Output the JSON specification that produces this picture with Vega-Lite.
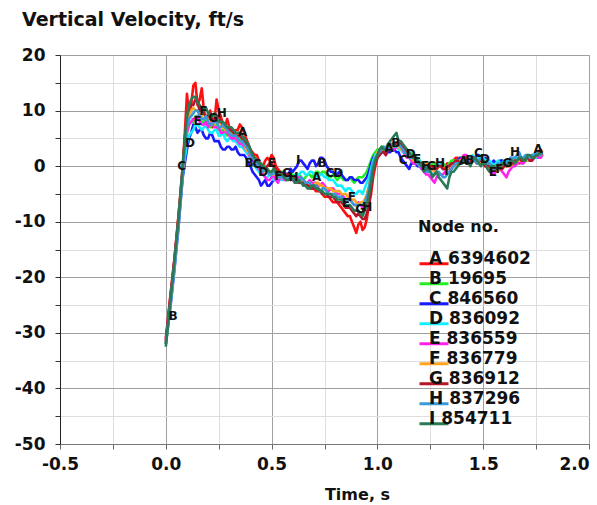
{
  "$schema": "https://vega.github.io/schema/vega-lite/v6.json",
  "width": 529,
  "height": 389,
  "autosize": {"type": "none"},
  "padding": {"left": 60, "top": 55, "right": 8, "bottom": 61},
  "background": "white",
  "config": {
    "view": {"stroke": "#808080", "strokeWidth": 1},
    "font": "DejaVu Sans"
  },
  "title": {
    "text": "Vertical Velocity, ft/s",
    "anchor": "start",
    "frame": "group",
    "font": "DejaVu Sans",
    "fontSize": 19,
    "fontWeight": "bold",
    "color": "#111111",
    "dx": -38,
    "offset": 16
  },
  "datasets": {
    "vel": [
      {"t":0.00,"A":-31.5,"B":-32,"C":-32,"D":-32,"E":-31.5,"F":-32,"G":-31,"H":-32,"I":-32.5},
      {"t":0.02,"A":-24,"B":-25,"C":-26,"D":-25.5,"E":-24.5,"F":-25,"G":-24,"H":-25,"I":-25},
      {"t":0.04,"A":-17,"B":-18,"C":-19,"D":-18.5,"E":-17.5,"F":-18,"G":-17,"H":-18,"I":-17.5},
      {"t":0.06,"A":-9,"B":-10,"C":-11,"D":-10.5,"E":-10,"F":-9.5,"G":-9,"H":-10,"I":-9.5},
      {"t":0.08,"A":0,"B":-1.5,"C":-2,"D":-1.5,"E":-1,"F":-1,"G":-0.5,"H":-1,"I":0},
      {"t":0.10,"A":13,"B":6,"C":3,"D":4,"E":6,"F":7,"G":9,"H":7,"I":9},
      {"t":0.12,"A":11,"B":8,"C":6,"D":6,"E":8,"F":10,"G":11,"H":9,"I":12},
      {"t":0.14,"A":15,"B":9,"C":7,"D":7.5,"E":8.5,"F":10,"G":12,"H":10,"I":12.5},
      {"t":0.16,"A":12,"B":8.5,"C":6.5,"D":7,"E":8,"F":9.5,"G":10,"H":9,"I":11},
      {"t":0.18,"A":10,"B":8,"C":5.5,"D":7,"E":7.5,"F":9.5,"G":9.5,"H":8.5,"I":10},
      {"t":0.20,"A":9,"B":8,"C":5,"D":6.5,"E":7,"F":8.5,"G":9,"H":8,"I":9.5},
      {"t":0.22,"A":7,"B":7.5,"C":5.5,"D":6,"E":8,"F":8,"G":8.5,"H":7.5,"I":9},
      {"t":0.24,"A":12,"B":7,"C":4.5,"D":6.5,"E":7,"F":8,"G":9,"H":8,"I":8.5},
      {"t":0.26,"A":9,"B":6.5,"C":3.5,"D":5.5,"E":6,"F":7.5,"G":8,"H":7,"I":8},
      {"t":0.28,"A":7,"B":6,"C":3,"D":5,"E":6.5,"F":6.5,"G":7,"H":7,"I":7.5},
      {"t":0.30,"A":7,"B":6,"C":3.5,"D":5,"E":5.5,"F":6,"G":6.5,"H":6,"I":7},
      {"t":0.32,"A":6,"B":5.5,"C":3,"D":4.5,"E":5,"F":5.5,"G":6,"H":5.5,"I":6.5},
      {"t":0.34,"A":6.5,"B":5,"C":2.5,"D":4,"E":4.5,"F":5,"G":5.5,"H":5,"I":6},
      {"t":0.36,"A":7,"B":4.5,"C":2,"D":3.5,"E":4,"F":4.5,"G":5,"H":4.5,"I":5.5},
      {"t":0.38,"A":5,"B":3.5,"C":1.5,"D":2.5,"E":3,"F":3,"G":4,"H":3.5,"I":4.5},
      {"t":0.40,"A":3,"B":2,"C":0,"D":1,"E":1.5,"F":2,"G":2.5,"H":2,"I":3},
      {"t":0.42,"A":2,"B":1,"C":-1.5,"D":0,"E":0.5,"F":1,"G":1.5,"H":1,"I":1.5},
      {"t":0.44,"A":1,"B":0,"C":-2.5,"D":-1,"E":-0.5,"F":0,"G":0.5,"H":0,"I":0.5},
      {"t":0.46,"A":0,"B":-0.5,"C":-3,"D":-1.5,"E":-1.5,"F":-0.5,"G":-0.5,"H":-1,"I":0},
      {"t":0.48,"A":1.5,"B":-0.5,"C":-3.5,"D":-2,"E":-2.5,"F":-1,"G":0,"H":-1,"I":-0.5},
      {"t":0.50,"A":2,"B":-1,"C":-3,"D":-2,"E":-2,"F":-1.5,"G":0.5,"H":-1.5,"I":-1},
      {"t":0.52,"A":0,"B":-1,"C":-2.5,"D":-2,"E":-2.5,"F":-1.5,"G":-0.5,"H":-1.5,"I":-1},
      {"t":0.54,"A":-1,"B":-1.5,"C":-2,"D":-2.5,"E":-2,"F":-2,"G":-1,"H":-2,"I":-1.5},
      {"t":0.56,"A":-1.5,"B":-1.5,"C":-1,"D":-2,"E":-2.5,"F":-2,"G":-1.5,"H":-2,"I":-2},
      {"t":0.58,"A":-2,"B":-1.5,"C":-1.5,"D":-1.5,"E":-2,"F":-2,"G":-1.5,"H":-2,"I":-2.5},
      {"t":0.60,"A":-2,"B":-1.5,"C":-1,"D":-2,"E":-2.5,"F":-2,"G":-2,"H":-2.5,"I":-2},
      {"t":0.62,"A":-2.5,"B":-2,"C":0,"D":-1.5,"E":-2.5,"F":-2.5,"G":-2.5,"H":-2.5,"I":-3},
      {"t":0.64,"A":-2.5,"B":-2,"C":1,"D":-1,"E":-2,"F":-2.5,"G":-3,"H":-2,"I":-3},
      {"t":0.66,"A":-3,"B":-2,"C":0,"D":-1.5,"E":-3,"F":-3,"G":-3.5,"H":-3,"I":-3.5},
      {"t":0.68,"A":-4,"B":-1.5,"C":0.5,"D":-1,"E":-2.5,"F":-3,"G":-3.5,"H":-3,"I":-4},
      {"t":0.70,"A":-4,"B":-1.5,"C":1,"D":-1.5,"E":-3,"F":-3.5,"G":-4,"H":-3.5,"I":-3.5},
      {"t":0.72,"A":-4.5,"B":-1,"C":0.5,"D":-2,"E":-3.5,"F":-3,"G":-4,"H":-4,"I":-4},
      {"t":0.74,"A":-5,"B":-1,"C":1.5,"D":-1.5,"E":-3,"F":-3.5,"G":-5,"H":-4,"I":-4.5},
      {"t":0.76,"A":-5.5,"B":-1.5,"C":0,"D":-2,"E":-4,"F":-4,"G":-5,"H":-4.5,"I":-5},
      {"t":0.78,"A":-6,"B":-2,"C":-1,"D":-2.5,"E":-4,"F":-4,"G":-5.5,"H":-5,"I":-5},
      {"t":0.80,"A":-6.5,"B":-2,"C":-1.5,"D":-3,"E":-4.5,"F":-4.5,"G":-6,"H":-5,"I":-5.5},
      {"t":0.82,"A":-7,"B":-2,"C":-1,"D":-3.5,"E":-5,"F":-4.5,"G":-6.5,"H":-5.5,"I":-6},
      {"t":0.84,"A":-8,"B":-2.5,"C":-2,"D":-4,"E":-5.5,"F":-5,"G":-7,"H":-6,"I":-6.5},
      {"t":0.86,"A":-9,"B":-2.5,"C":-2.5,"D":-4,"E":-6,"F":-5.5,"G":-7.5,"H":-6,"I":-7},
      {"t":0.88,"A":-10,"B":-2.5,"C":-2,"D":-4.5,"E":-6.5,"F":-6,"G":-8,"H":-6.5,"I":-7.5},
      {"t":0.90,"A":-12,"B":-2.5,"C":-2.5,"D":-5,"E":-7,"F":-6.5,"G":-9,"H":-7,"I":-8},
      {"t":0.92,"A":-10,"B":-2,"C":-3,"D":-4.5,"E":-7,"F":-6.5,"G":-9,"H":-7,"I":-8.5},
      {"t":0.94,"A":-11,"B":-1.5,"C":-2.5,"D":-4,"E":-6.5,"F":-6,"G":-9.5,"H":-6.5,"I":-8},
      {"t":0.96,"A":-7,"B":0,"C":-1,"D":-2,"E":-4,"F":-3.5,"G":-7,"H":-4,"I":-5},
      {"t":0.98,"A":-2,"B":2,"C":1.5,"D":1,"E":0,"F":0,"G":-1,"H":0.5,"I":-0.5},
      {"t":1.00,"A":1.5,"B":3,"C":2.5,"D":2.5,"E":2,"F":2.5,"G":1.5,"H":2,"I":2},
      {"t":1.02,"A":2.5,"B":3.5,"C":2.5,"D":3,"E":3,"F":3,"G":2.5,"H":3,"I":3.5},
      {"t":1.04,"A":2,"B":3,"C":3,"D":3.5,"E":2.5,"F":3.5,"G":2,"H":3,"I":3},
      {"t":1.06,"A":3.5,"B":3.5,"C":2.5,"D":3,"E":3.5,"F":3,"G":3.5,"H":3.5,"I":4.5},
      {"t":1.08,"A":3,"B":4,"C":3,"D":3.5,"E":3,"F":4,"G":4,"H":3.5,"I":5.5},
      {"t":1.10,"A":4,"B":4.5,"C":2.5,"D":3,"E":4,"F":3.5,"G":4.5,"H":4,"I":4.5},
      {"t":1.12,"A":3,"B":3,"C":1,"D":2.5,"E":3,"F":3,"G":3.5,"H":3,"I":4},
      {"t":1.14,"A":2,"B":2,"C":0,"D":2,"E":1.5,"F":2,"G":2,"H":2,"I":3},
      {"t":1.16,"A":1.5,"B":2,"C":0.5,"D":2.5,"E":1,"F":1.5,"G":1.5,"H":1.5,"I":2},
      {"t":1.18,"A":1,"B":1.5,"C":0.5,"D":1.5,"E":0.5,"F":1,"G":1,"H":1,"I":1.5},
      {"t":1.20,"A":0.5,"B":1,"C":0,"D":1,"E":0,"F":0.5,"G":0.5,"H":0,"I":0.5},
      {"t":1.22,"A":0,"B":0.5,"C":-0.5,"D":0.5,"E":-1,"F":0,"G":0,"H":-0.5,"I":-1},
      {"t":1.24,"A":-0.5,"B":0,"C":-1,"D":0,"E":-1.5,"F":0,"G":-0.5,"H":-1,"I":0},
      {"t":1.26,"A":-0.5,"B":0.5,"C":-0.5,"D":-0.5,"E":-2.5,"F":-0.5,"G":0,"H":-1.5,"I":-2},
      {"t":1.28,"A":0,"B":0,"C":0,"D":0,"E":-2,"F":-0.5,"G":-0.5,"H":-1,"I":-1},
      {"t":1.30,"A":0.5,"B":0.5,"C":0,"D":0,"E":-1.5,"F":0,"G":0,"H":-1.5,"I":-2.5},
      {"t":1.32,"A":0,"B":0,"C":-0.5,"D":-0.5,"E":-1,"F":-0.5,"G":-0.5,"H":-2,"I":-3.5},
      {"t":1.34,"A":0.5,"B":0.5,"C":0,"D":0,"E":-0.5,"F":0,"G":0,"H":-1,"I":-2},
      {"t":1.36,"A":1,"B":1,"C":0.5,"D":0.5,"E":0,"F":0.5,"G":0.5,"H":0,"I":-1},
      {"t":1.38,"A":1.5,"B":1,"C":1,"D":1,"E":0.5,"F":0.5,"G":1,"H":0.5,"I":0},
      {"t":1.40,"A":1.5,"B":1.5,"C":1,"D":1,"E":1.5,"F":1,"G":1,"H":1,"I":0.5},
      {"t":1.42,"A":1,"B":1,"C":1.5,"D":1.5,"E":2,"F":1,"G":1.5,"H":1,"I":1},
      {"t":1.44,"A":1.5,"B":1.5,"C":1,"D":1,"E":1,"F":1.5,"G":1,"H":1.5,"I":0},
      {"t":1.46,"A":1,"B":1.5,"C":1.5,"D":1.5,"E":1.5,"F":1,"G":1.5,"H":1,"I":1.5},
      {"t":1.48,"A":1,"B":1,"C":2,"D":1.5,"E":1,"F":0.5,"G":1,"H":1,"I":0.5},
      {"t":1.50,"A":0.5,"B":1,"C":1.5,"D":1.5,"E":0.5,"F":0.5,"G":0.5,"H":1,"I":1},
      {"t":1.52,"A":0,"B":0.5,"C":1,"D":1,"E":0,"F":0,"G":0,"H":0.5,"I":-0.5},
      {"t":1.54,"A":0,"B":0.5,"C":0.5,"D":0.5,"E":-1,"F":0,"G":-0.5,"H":0,"I":0},
      {"t":1.56,"A":-0.5,"B":0,"C":0.5,"D":0.5,"E":-1,"F":-0.5,"G":0,"H":0,"I":-0.5},
      {"t":1.58,"A":0,"B":0.5,"C":1,"D":0.5,"E":-0.5,"F":-0.5,"G":-0.5,"H":0.5,"I":0},
      {"t":1.60,"A":0.5,"B":0.5,"C":0.5,"D":1,"E":-1.5,"F":0,"G":0,"H":0.5,"I":0.5},
      {"t":1.62,"A":0,"B":1,"C":1,"D":1,"E":-1,"F":0,"G":0.5,"H":1,"I":0.5},
      {"t":1.64,"A":0.5,"B":1,"C":1,"D":1,"E":0,"F":0.5,"G":0.5,"H":1.5,"I":1},
      {"t":1.66,"A":1,"B":1,"C":1.5,"D":1.5,"E":0.5,"F":1,"G":1,"H":2,"I":1},
      {"t":1.68,"A":1,"B":1.5,"C":1,"D":1,"E":0.5,"F":1,"G":1,"H":1.5,"I":1.5},
      {"t":1.70,"A":1.5,"B":1.5,"C":1.5,"D":1.5,"E":1,"F":1,"G":1.5,"H":2,"I":1},
      {"t":1.72,"A":1,"B":1.5,"C":1,"D":1.5,"E":1,"F":1.5,"G":1,"H":1.5,"I":2},
      {"t":1.74,"A":2,"B":2,"C":1.5,"D":2,"E":1.5,"F":1.5,"G":1.5,"H":2,"I":1.5},
      {"t":1.76,"A":2.5,"B":2,"C":1.5,"D":2,"E":1.5,"F":2,"G":2,"H":2,"I":2},
      {"t":1.78,"A":2.5,"B":2.5,"C":2,"D":2,"E":2,"F":2,"G":2,"H":2.5,"I":2.5},
      {"t":0.01,"A":-28,"B":-28.5,"C":-29,"D":-28.8,"E":-28,"F":-28.5,"G":-27.5,"H":-28.5,"I":-28.8},
      {"t":0.03,"A":-20.5,"B":-21.5,"C":-22.5,"D":-22,"E":-21,"F":-21.5,"G":-20.5,"H":-21.5,"I":-21.2},
      {"t":0.05,"A":-13,"B":-14,"C":-15,"D":-14.5,"E":-13.8,"F":-13.8,"G":-13,"H":-14,"I":-13.5},
      {"t":0.07,"A":-4.5,"B":-5.8,"C":-6.5,"D":-6,"E":-5.5,"F":-5.2,"G":-4.8,"H":-5.5,"I":-4.8},
      {"t":0.09,"A":6,"B":2.5,"C":0.5,"D":1.5,"E":3,"F":3.5,"G":5,"H":3.5,"I":5},
      {"t":0.11,"A":9,"B":7.5,"C":5,"D":5.5,"E":7.5,"F":9,"G":10.5,"H":8.5,"I":11},
      {"t":0.13,"A":14.5,"B":8,"C":7.5,"D":6.5,"E":8.5,"F":10.5,"G":11,"H":9.5,"I":12.5},
      {"t":0.15,"A":11,"B":9,"C":6,"D":7.5,"E":9,"F":10,"G":11.5,"H":10,"I":11.5},
      {"t":0.17,"A":14,"B":8,"C":6.5,"D":6.5,"E":7.5,"F":9,"G":10.5,"H":8.5,"I":10.5},
      {"t":0.19,"A":8.5,"B":8.5,"C":5,"D":7.5,"E":8,"F":9,"G":9,"H":9,"I":10.5},
      {"t":0.21,"A":10,"B":7,"C":6,"D":6,"E":7.5,"F":8.5,"G":9.5,"H":7.5,"I":9},
      {"t":0.23,"A":8,"B":8,"C":4.5,"D":6.5,"E":7,"F":7.5,"G":8,"H":8,"I":9.5},
      {"t":0.25,"A":10,"B":6.5,"C":4.5,"D":5.5,"E":7,"F":8,"G":9,"H":7,"I":8},
      {"t":0.27,"A":7.5,"B":6.5,"C":3,"D":6,"E":6,"F":7,"G":7.5,"H":7.5,"I":8},
      {"t":0.29,"A":8.5,"B":5.5,"C":3.5,"D":4.5,"E":6,"F":6.5,"G":7,"H":6.5,"I":7},
      {"t":0.31,"A":6,"B":6,"C":3,"D":5,"E":5,"F":5.5,"G":6.5,"H":5.5,"I":7},
      {"t":0.33,"A":6.5,"B":5,"C":3.5,"D":4.5,"E":5,"F":5.5,"G":5.5,"H":5.5,"I":6},
      {"t":0.35,"A":7.5,"B":5,"C":2,"D":3.5,"E":4,"F":4.5,"G":5.5,"H":4.5,"I":6},
      {"t":0.37,"A":6,"B":4,"C":2,"D":3,"E":3.5,"F":4,"G":4.5,"H":4,"I":5},
      {"t":0.39,"A":4,"B":3,"C":0.5,"D":2,"E":2.5,"F":2.5,"G":3,"H":3,"I":4},
      {"t":0.41,"A":2.5,"B":1.5,"C":-1,"D":0.5,"E":1,"F":1.5,"G":2,"H":1.5,"I":2},
      {"t":0.43,"A":2,"B":0.5,"C":-2,"D":-0.5,"E":0,"F":0.5,"G":1,"H":0.5,"I":1},
      {"t":0.45,"A":0,"B":-0.5,"C":-3.5,"D":-1.5,"E":-1,"F":-0.5,"G":0,"H":-0.5,"I":0.5},
      {"t":0.47,"A":1,"B":0,"C":-2.5,"D":-2,"E":-2,"F":-1,"G":-0.5,"H":-0.5,"I":-0.5},
      {"t":0.49,"A":1,"B":-1,"C":-3.5,"D":-1.5,"E":-2.5,"F":-1,"G":0.5,"H":-1.5,"I":-1},
      {"t":0.51,"A":1.5,"B":-0.5,"C":-2.5,"D":-2.5,"E":-1.5,"F":-1.5,"G":0,"H":-1,"I":-0.5},
      {"t":0.53,"A":-0.5,"B":-1.5,"C":-2.5,"D":-1.5,"E":-3,"F":-2,"G":-1,"H":-2,"I":-1.5},
      {"t":0.55,"A":-1.5,"B":-1,"C":-1.5,"D":-2.5,"E":-2,"F":-1.5,"G":-1.5,"H":-2,"I":-1.5},
      {"t":0.57,"A":-1.5,"B":-2,"C":-1.5,"D":-2,"E":-2.5,"F":-2.5,"G":-1.5,"H":-2.5,"I":-2.5},
      {"t":0.59,"A":-2.5,"B":-1.5,"C":-0.5,"D":-2,"E":-2,"F":-2,"G":-2,"H":-2,"I":-2},
      {"t":0.61,"A":-2,"B":-2,"C":-0.5,"D":-1.5,"E":-3,"F":-2.5,"G":-2,"H":-2.5,"I":-3},
      {"t":0.63,"A":-3,"B":-1.5,"C":1,"D":-1.5,"E":-2,"F":-2.5,"G":-3,"H":-2.5,"I":-2.5},
      {"t":0.65,"A":-2.5,"B":-2.5,"C":0.5,"D":-1,"E":-2.5,"F":-3,"G":-3,"H":-2.5,"I":-3.5},
      {"t":0.67,"A":-3.5,"B":-1.5,"C":-0.5,"D":-1.5,"E":-3,"F":-3,"G":-3.5,"H":-3,"I":-4},
      {"t":0.69,"A":-4,"B":-2,"C":1,"D":-1,"E":-3,"F":-3.5,"G":-4,"H":-3.5,"I":-3.5},
      {"t":0.71,"A":-4.5,"B":-1,"C":0,"D":-2,"E":-3,"F":-3,"G":-4,"H":-3.5,"I":-4},
      {"t":0.73,"A":-4.5,"B":-1.5,"C":1.5,"D":-1.5,"E":-3.5,"F":-3.5,"G":-4.5,"H":-4.5,"I":-4.5},
      {"t":0.75,"A":-5.5,"B":-1,"C":1,"D":-2,"E":-3.5,"F":-4,"G":-5,"H":-4,"I":-5},
      {"t":0.77,"A":-5.5,"B":-2,"C":-0.5,"D":-2.5,"E":-4.5,"F":-4,"G":-5.5,"H":-5,"I":-5},
      {"t":0.79,"A":-6.5,"B":-1.5,"C":-1,"D":-2.5,"E":-4,"F":-4.5,"G":-5.5,"H":-5,"I":-5.5},
      {"t":0.81,"A":-6.5,"B":-2.5,"C":-1.5,"D":-3.5,"E":-5,"F":-4.5,"G":-6.5,"H":-5.5,"I":-6},
      {"t":0.83,"A":-7.5,"B":-2,"C":-1.5,"D":-3.5,"E":-5,"F":-5,"G":-6.5,"H":-5.5,"I":-6},
      {"t":0.85,"A":-8.5,"B":-2.5,"C":-2.5,"D":-4.5,"E":-6,"F":-5,"G":-7.5,"H":-6.5,"I":-7},
      {"t":0.87,"A":-9,"B":-2,"C":-2,"D":-4,"E":-6,"F":-6,"G":-7.5,"H":-6,"I":-7},
      {"t":0.89,"A":-11,"B":-3,"C":-2.5,"D":-5,"E":-7,"F":-6,"G":-8.5,"H":-7,"I":-8},
      {"t":0.91,"A":-10.5,"B":-2,"C":-2.5,"D":-4.5,"E":-6.5,"F":-7,"G":-8.5,"H":-7,"I":-8},
      {"t":0.93,"A":-11.5,"B":-2,"C":-3,"D":-5,"E":-7.5,"F":-6.5,"G":-9.5,"H":-7,"I":-9},
      {"t":0.95,"A":-9.5,"B":-1,"C":-2,"D":-3,"E":-5.5,"F":-5,"G":-8.5,"H":-5.5,"I":-7},
      {"t":0.97,"A":-5,"B":1,"C":0.5,"D":-0.5,"E":-2,"F":-2,"G":-4,"H":-1.5,"I":-3},
      {"t":0.99,"A":0,"B":2.5,"C":2,"D":2,"E":1,"F":1.5,"G":0.5,"H":1.5,"I":1},
      {"t":1.01,"A":2,"B":3,"C":2,"D":3,"E":2.5,"F":3,"G":2,"H":2.5,"I":3},
      {"t":1.03,"A":2.5,"B":3.5,"C":3,"D":3,"E":3,"F":3,"G":2.5,"H":3.5,"I":3},
      {"t":1.05,"A":3,"B":3,"C":2.5,"D":3.5,"E":3,"F":3.5,"G":3,"H":3,"I":4},
      {"t":1.07,"A":3,"B":4,"C":3,"D":3,"E":3.5,"F":3.5,"G":4,"H":4,"I":5},
      {"t":1.09,"A":3.5,"B":4,"C":2.5,"D":3.5,"E":3.5,"F":3.5,"G":4,"H":3.5,"I":6},
      {"t":1.11,"A":3.5,"B":4,"C":1.5,"D":3,"E":3.5,"F":3,"G":4,"H":3.5,"I":4.5},
      {"t":1.13,"A":2.5,"B":2.5,"C":0.5,"D":2.5,"E":2,"F":2.5,"G":3,"H":2.5,"I":3.5},
      {"t":1.15,"A":1.5,"B":2.5,"C":-0.5,"D":2,"E":1.5,"F":2,"G":1.5,"H":1.5,"I":2.5},
      {"t":1.17,"A":1.5,"B":1.5,"C":0.5,"D":2,"E":0.5,"F":1,"G":1.5,"H":1.5,"I":1.5},
      {"t":1.19,"A":0.5,"B":1.5,"C":0,"D":1.5,"E":0.5,"F":1,"G":0.5,"H":0.5,"I":1},
      {"t":1.21,"A":0.5,"B":0.5,"C":-0.5,"D":0.5,"E":-0.5,"F":0,"G":0.5,"H":0,"I":0},
      {"t":1.23,"A":-0.5,"B":0.5,"C":-1,"D":0.5,"E":-1.5,"F":0.5,"G":-0.5,"H":-1,"I":-0.5},
      {"t":1.25,"A":0,"B":0,"C":-0.5,"D":-0.5,"E":-2,"F":-0.5,"G":0,"H":-1,"I":-1},
      {"t":1.27,"A":-1,"B":0.5,"C":-0.5,"D":0,"E":-3,"F":-1,"G":-0.5,"H":-1.5,"I":-1.5},
      {"t":1.29,"A":0.5,"B":0,"C":0.5,"D":0.5,"E":-1.5,"F":0,"G":0,"H":-1,"I":-2},
      {"t":1.31,"A":0,"B":0.5,"C":-0.5,"D":0,"E":-1.5,"F":0,"G":-0.5,"H":-2,"I":-3},
      {"t":1.33,"A":0.5,"B":0,"C":0,"D":-0.5,"E":-0.5,"F":-0.5,"G":0,"H":-1.5,"I":-4},
      {"t":1.35,"A":0.5,"B":1,"C":0.5,"D":0.5,"E":-0.5,"F":0.5,"G":0.5,"H":-0.5,"I":-1},
      {"t":1.37,"A":1.5,"B":1,"C":0.5,"D":1,"E":0.5,"F":0,"G":1,"H":0.5,"I":-0.5},
      {"t":1.39,"A":1,"B":1.5,"C":1.5,"D":1,"E":1,"F":1,"G":0.5,"H":0.5,"I":0.5},
      {"t":1.41,"A":2,"B":1,"C":1,"D":1.5,"E":2,"F":1,"G":1.5,"H":1.5,"I":1},
      {"t":1.43,"A":1,"B":1.5,"C":1.5,"D":1,"E":1.5,"F":1.5,"G":1,"H":1,"I":0.5},
      {"t":1.45,"A":1.5,"B":1,"C":1,"D":2,"E":1.5,"F":1,"G":1.5,"H":1.5,"I":1},
      {"t":1.47,"A":0.5,"B":1.5,"C":2,"D":1,"E":1,"F":1,"G":1,"H":0.5,"I":1},
      {"t":1.49,"A":1,"B":1,"C":1.5,"D":2,"E":1,"F":0.5,"G":1,"H":1.5,"I":0},
      {"t":1.51,"A":0,"B":1,"C":1.5,"D":1,"E":0,"F":0.5,"G":0,"H":0.5,"I":0.5},
      {"t":1.53,"A":0.5,"B":0,"C":0.5,"D":1,"E":-0.5,"F":-0.5,"G":0,"H":0.5,"I":-1},
      {"t":1.55,"A":-0.5,"B":0.5,"C":1,"D":0,"E":-1.5,"F":0,"G":-0.5,"H":-0.5,"I":0},
      {"t":1.57,"A":0,"B":0,"C":0.5,"D":1,"E":-0.5,"F":-1,"G":0,"H":0.5,"I":-0.5},
      {"t":1.59,"A":0.5,"B":1,"C":1,"D":0.5,"E":-1,"F":0,"G":-0.5,"H":0.5,"I":0.5},
      {"t":1.61,"A":0,"B":0.5,"C":0.5,"D":1,"E":-2,"F":0.5,"G":0.5,"H":0.5,"I":0},
      {"t":1.63,"A":0.5,"B":1,"C":1.5,"D":0.5,"E":-0.5,"F":0,"G":0.5,"H":1.5,"I":1},
      {"t":1.65,"A":1,"B":1.5,"C":1,"D":1.5,"E":0,"F":1,"G":1,"H":1.5,"I":0.5},
      {"t":1.67,"A":0.5,"B":1,"C":1.5,"D":1,"E":1,"F":1,"G":1.5,"H":2.5,"I":1.5},
      {"t":1.69,"A":1.5,"B":1.5,"C":1,"D":1.5,"E":0.5,"F":1.5,"G":1,"H":1.5,"I":1},
      {"t":1.71,"A":1,"B":1,"C":1.5,"D":1,"E":1.5,"F":1,"G":1.5,"H":2,"I":2},
      {"t":1.73,"A":1.5,"B":2,"C":1,"D":2,"E":1,"F":1.5,"G":1,"H":2,"I":1.5},
      {"t":1.75,"A":2,"B":1.5,"C":2,"D":1.5,"E":2,"F":2,"G":2,"H":2.5,"I":2},
      {"t":1.77,"A":3,"B":2.5,"C":1.5,"D":2.5,"E":1.5,"F":2,"G":2.5,"H":2,"I":2.5}
    ],
    "labels": [
      {"s":"B","t":0.034,"v":-26.9},
      {"s":"C","t":0.075,"v":0},
      {"s":"D","t":0.114,"v":4.2},
      {"s":"E","t":0.15,"v":8.1},
      {"s":"F","t":0.177,"v":9.9},
      {"s":"G","t":0.224,"v":8.7},
      {"s":"H","t":0.264,"v":9.6},
      {"s":"A","t":0.363,"v":6.1},
      {"s":"B","t":0.393,"v":0.6},
      {"s":"C","t":0.43,"v":0.3},
      {"s":"D","t":0.461,"v":-1.1},
      {"s":"E","t":0.501,"v":0.5},
      {"s":"F","t":0.532,"v":-1.7},
      {"s":"G","t":0.572,"v":-1.2},
      {"s":"H","t":0.603,"v":-1.9},
      {"s":"I","t":0.626,"v":1.1},
      {"s":"A","t":0.713,"v":-1.9},
      {"s":"B","t":0.739,"v":0.6},
      {"s":"C","t":0.776,"v":-1.3},
      {"s":"D","t":0.815,"v":-1.3},
      {"s":"E","t":0.852,"v":-6.7},
      {"s":"F","t":0.879,"v":-5.5},
      {"s":"G","t":0.918,"v":-7.7},
      {"s":"H","t":0.952,"v":-7.3},
      {"s":"A","t":1.056,"v":3.3},
      {"s":"B","t":1.087,"v":4.2},
      {"s":"C","t":1.122,"v":1.1},
      {"s":"D","t":1.157,"v":2.1},
      {"s":"E","t":1.188,"v":1.3},
      {"s":"F","t":1.225,"v":0.1},
      {"s":"G","t":1.256,"v":0.1},
      {"s":"H","t":1.296,"v":0.6},
      {"s":"I","t":1.327,"v":-0.9},
      {"s":"A","t":1.406,"v":0.9},
      {"s":"B","t":1.437,"v":1.1},
      {"s":"C","t":1.477,"v":2.4},
      {"s":"D","t":1.508,"v":1.3},
      {"s":"E","t":1.545,"v":-1.1},
      {"s":"F","t":1.576,"v":-0.5},
      {"s":"G","t":1.614,"v":0.5},
      {"s":"H","t":1.65,"v":2.5},
      {"s":"A","t":1.76,"v":3.1}
    ]
  },
  "encoding": {
    "x": {
      "field": "t",
      "type": "quantitative",
      "scale": {"domain": [-0.5, 2.0], "nice": false, "zero": false},
      "axis": {
        "title": "Time, s",
        "titleFont": "DejaVu Sans",
        "titleFontSize": 16,
        "titleFontWeight": "bold",
        "titleColor": "#111111",
        "titleX": 297,
        "titleY": 55,
        "titleAlign": "center",
        "titleBaseline": "alphabetic",
        "values": [-0.5, -0.25, 0, 0.25, 0.5, 0.75, 1, 1.25, 1.5, 1.75, 2],
        "labelExpr": "(datum.value*4) % 2 === 0 ? replace(format(datum.value, '.1f'), '\u2212', '-') : ''",
        "labelAlign": {"condition": {"test": "datum.value === 2", "value": "right"}, "value": "center"},
        "labelFont": "DejaVu Sans",
        "labelFontSize": 17,
        "labelFontWeight": "bold",
        "labelColor": "#111111",
        "labelPadding": 7,
        "labelFlush": false,
        "labelOverlap": false,
        "tickSize": 5,
        "tickColor": "#666666",
        "domainColor": "#777777",
        "gridColor": {"condition": {"test": "(datum.value*4) % 2 === 0", "value": "#a0a0a0"}, "value": "#dedede"}
      }
    },
    "y": {
      "field": "v",
      "type": "quantitative",
      "scale": {"domain": [-50, 20], "nice": false, "zero": false},
      "axis": {
        "title": null,
        "values": [-50, -45, -40, -35, -30, -25, -20, -15, -10, -5, 0, 5, 10, 15, 20],
        "labelExpr": "datum.value % 10 === 0 ? replace(format(datum.value, 'd'), '\u2212', '-') : ''",
        "labelFont": "DejaVu Sans",
        "labelFontSize": 17,
        "labelFontWeight": "bold",
        "labelColor": "#111111",
        "labelPadding": 10,
        "labelFlush": false,
        "labelOverlap": false,
        "tickSize": 5,
        "tickColor": "#333333",
        "domainColor": "#222222",
        "gridColor": {"condition": {"test": "datum.value % 10 === 0", "value": "#a0a0a0"}, "value": "#dedede"}
      }
    }
  },
  "layer": [
    {
      "data": {"name": "vel"},
      "transform": [{"fold": ["A", "B", "C", "D", "E", "F", "G", "H", "I"], "as": ["node", "v"]}],
      "mark": {"type": "line", "strokeWidth": 2.6, "strokeJoin": "round"},
      "encoding": {
        "color": {
          "field": "node",
          "type": "nominal",
          "scale": {
            "domain": ["A", "B", "C", "D", "E", "F", "G", "H", "I"],
            "range": ["#ff1010", "#22ee22", "#1a1aff", "#11eeff", "#ff22ee", "#ffa520", "#b5152b", "#3a9ad9", "#2a7a55"]
          },
          "legend": {
            "orient": "none",
            "legendX": 358,
            "legendY": 164,
            "padding": 0,
            "title": "Node no.",
            "titleFont": "DejaVu Sans",
            "titleFontSize": 16,
            "titleFontWeight": "bold",
            "titleColor": "#111111",
            "titlePadding": 19,
            "symbolType": "stroke",
            "symbolSize": 841,
            "symbolStrokeWidth": 3,
            "clipHeight": 19.5,
            "rowPadding": -6,
            "labelExpr": "datum.label + ' ' + ['6394602','19695','846560','836092','836559','836779','836912','837296','854711'][indexof(['A','B','C','D','E','F','G','H','I'], datum.label)]",
            "labelFont": "DejaVu Sans",
            "labelFontSize": 17,
            "labelFontWeight": "bold",
            "labelColor": "#111111",
            "labelOffset": -21,
            "labelBaseline": "alphabetic",
            "labelLimit": 300
          }
        }
      }
    },
    {
      "data": {"name": "labels"},
      "mark": {"type": "text", "font": "DejaVu Sans", "fontSize": 12, "fontWeight": "bold", "color": "#111111", "align": "center", "baseline": "middle"},
      "encoding": {
        "text": {"field": "s", "type": "nominal"}
      }
    }
  ]
}
